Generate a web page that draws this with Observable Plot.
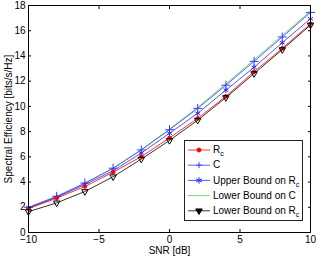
<!DOCTYPE html>
<html><head><meta charset="utf-8">
<script src="https://cdn.jsdelivr.net/npm/d3@7"></script>
<script src="https://cdn.jsdelivr.net/npm/@observablehq/plot@0.6"></script>
<style>body{margin:0;background:#fff;} svg{display:block;}</style>
</head><body><div id="chart"></div>
<script>
const snr = [-10,-8,-6,-4,-2,0,2,4,6,8,10];
const rc = [1.9,2.72,3.65,4.78,6.02,7.5,9.05,10.8,12.75,14.6,16.55];
const cap = [2.0,2.87,3.92,5.1,6.55,8.15,9.84,11.68,13.57,15.5,17.45];
const upperRc = [1.95,2.8,3.8,4.9,6.3,7.87,9.45,11.29,13.1,15.05,16.95];
const lowerC = [1.92,2.82,3.88,5.08,6.55,8.2,9.92,11.78,13.7,15.62,17.55];
const lowerRc = [1.65,2.35,3.25,4.42,5.82,7.3,8.9,10.7,12.6,14.5,16.45];
const xTicks = [-10,-5,0,5,10];
const yTicks = [0,2,4,6,8,10,12,14,16,18];
const names = ["R_c","C","Upper Bound on R_c","Lower Bound on C","Lower Bound on R_c"];

const rows = (vals) => snr.map((x,i)=>({x, y: vals[i]}));
const series = [
  {name:names[0], data:rows(rc), color:"#ff0000", symbol:"circle", fill:"#ff0000", r:1.8},
  {name:names[1], data:rows(cap), color:"#3a3aff", symbol:"plus", fill:"none", r:3},
  {name:names[2], data:rows(upperRc), color:"#2a2aff", symbol:"asterisk", fill:"none", r:2.6},
  {name:names[3], data:rows(lowerC), color:"#3fd63f", symbol:null},
  {name:names[4], data:rows(lowerRc), color:"#000000", symbol:"triangle", fill:"none", r:2.4, rotate:180}
];
const lineOrder = [3,1,2,0,4];
const marks = [];
for (const i of lineOrder) {
  const s = series[i];
  marks.push(Plot.line(s.data, {x:"x", y:"y", stroke:s.color, strokeWidth:0.8}));
  if (s.symbol) marks.push(Plot.dot(s.data, {x:"x", y:"y", symbol:s.symbol, stroke:s.color, fill:s.fill, r:s.r, strokeWidth:1, rotate:s.rotate||0}));
}
const chart = Plot.plot({
  width:316, height:257,
  marginLeft:28, marginRight:6, marginTop:5, marginBottom:25,
  x:{domain:[-10,10]}, y:{domain:[0,18]},
  style:{fontFamily:"'Liberation Sans', Arial, sans-serif", fontSize:"10px", background:"#fff", color:"#000"},
  marks:[
    ...marks,
    Plot.frame({stroke:"#000", strokeWidth:1}),
    Plot.axisX(xTicks, {tickSize:-3, tickPadding:6, fontSize:10, label:"SNR [dB]", labelAnchor:"center", labelArrow:"none", labelOffset:21}),
    Plot.axisX(xTicks, {anchor:"top", tickSize:-3, tickFormat:()=>"", label:null}),
    Plot.axisY(yTicks, {tickSize:-3, tickPadding:6, fontSize:10, label:"Spectral Efficiency [bits/s/Hz]", labelAnchor:"center", labelArrow:"none", labelOffset:24}),
    Plot.axisY(yTicks, {anchor:"right", tickSize:-3, tickFormat:()=>"", label:null})
  ]
});
document.getElementById("chart").appendChild(chart);

// legend inside the plot
const svg = d3.select(chart);
const lg = svg.append("g").attr("font-family","'Liberation Sans', Arial, sans-serif").attr("font-size",10).attr("text-anchor","start");
const lx = 184, ly = 140, lw = 118, lh = 80;
lg.append("rect").attr("x",lx+0.5).attr("y",ly+0.5).attr("width",lw).attr("height",lh)
  .style("fill","#fff").style("stroke","#222").style("stroke-width","1px");
series.forEach((s,i)=>{
  const y = ly + 10 + i*15.2;
  lg.append("line").attr("x1",lx+4).attr("x2",lx+26).attr("y1",y).attr("y2",y).attr("stroke",s.color).attr("stroke-width",0.8);
  if (s.symbol) {
    const path = s.symbol==="plus"
      ? `M${-s.r},0H${s.r}M0,${-s.r}V${s.r}`
      : s.symbol==="asterisk" ? d3.symbol(d3.symbolAsterisk, 30)()
      : s.symbol==="circle" ? d3.symbol(d3.symbolCircle, 12)()
      : d3.symbol(d3.symbolTriangle, 18)();
    lg.append("path").attr("d",path).attr("transform",`translate(${lx+15},${y}) rotate(${s.rotate||0})`)
      .attr("fill", s.symbol==="triangle" ? s.color : s.fill).attr("stroke",s.color).attr("stroke-width",1);
  }
  const t = lg.append("text").attr("x",lx+29).attr("y",y).attr("dy","0.32em").attr("fill","#000");
  const parts = s.name.split("_");
  t.append("tspan").text(parts[0]);
  if (parts[1]) t.append("tspan").attr("dy","0.45em").attr("font-size",7).text(parts[1]);
});
</script></body></html>
